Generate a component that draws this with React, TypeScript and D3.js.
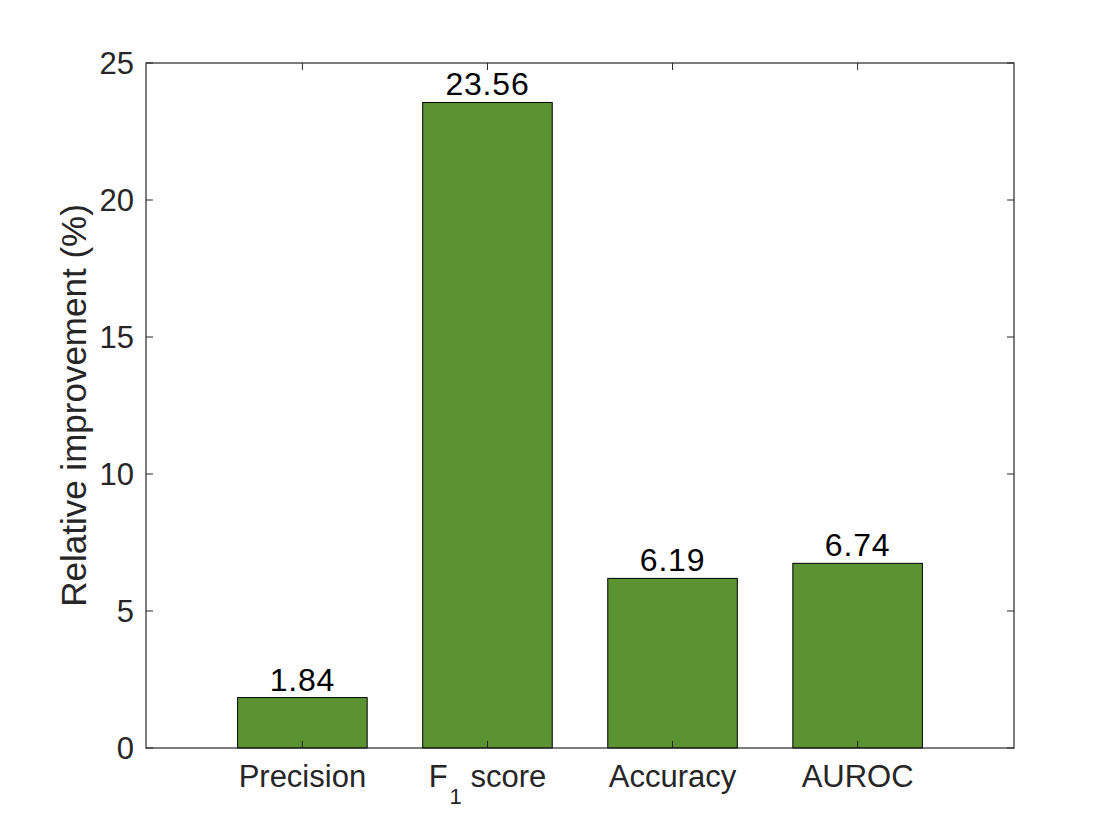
import React from "react"
import * as d3 from "d3"

const categories = ["Precision", "F1 score", "Accuracy", "AUROC"]
const improvements = [1.84, 23.56, 6.19, 6.74]
const yTicks = [0, 5, 10, 15, 20, 25]

const W = 1120
const H = 840
const FONT = "'Liberation Sans', Arial, Helvetica, sans-serif"

export default function App() {
  const left = 146
  const right = 1014
  const top = 63
  const bottom = 748

  const x = d3.scaleLinear().domain([0.155, 4.845]).range([left, right])
  const y = d3.scaleLinear().domain([0, 25]).range([bottom, top])
  const barW = x(0.7) - x(0)
  const tickLen = 7

  return (
    <svg
      width={W}
      height={H}
      style={{ position: "absolute", left: 0, top: 0, background: "white" }}
      fontFamily={FONT}
    >
      {/* bars */}
      {improvements.map((v, i) => (
        <g key={i}>
          <rect
            x={x(i + 1) - barW / 2}
            y={y(v)}
            width={barW}
            height={y(0) - y(v)}
            fill="#5b9332"
            stroke="#000"
            strokeWidth={1}
          />
          <text
            x={x(i + 1)}
            y={y(v) - 7}
            textAnchor="middle"
            fontSize={32}
            letterSpacing={0.8}
            fill="#000"
          >
            {v.toFixed(2)}
          </text>
        </g>
      ))}

      {/* axes box */}
      <rect
        x={left}
        y={top}
        width={right - left}
        height={bottom - top}
        fill="none"
        stroke="#262626"
        strokeWidth={1.2}
      />

      {/* y ticks */}
      {yTicks.map(t => (
        <g key={t}>
          <line x1={left} x2={left + tickLen} y1={y(t)} y2={y(t)} stroke="#262626" />
          <line x1={right} x2={right - tickLen} y1={y(t)} y2={y(t)} stroke="#262626" />
          <text
            x={left - 12}
            y={y(t)}
            dy="0.36em"
            textAnchor="end"
            fontSize={31}
            fill="#262626"
          >
            {t}
          </text>
        </g>
      ))}

      {/* x ticks */}
      {categories.map((c, i) => (
        <g key={c}>
          <line x1={x(i + 1)} x2={x(i + 1)} y1={bottom} y2={bottom - tickLen} stroke="#262626" />
          <line x1={x(i + 1)} x2={x(i + 1)} y1={top} y2={top + tickLen} stroke="#262626" />
          <text x={x(i + 1)} y={787} textAnchor="middle" fontSize={31} fill="#262626">
            {c === "F1 score" ? (
              <>
                F
                <tspan fontSize={22} dx={2} dy={17}>1</tspan>
                <tspan dy={-17}>{" score"}</tspan>
              </>
            ) : (
              c
            )}
          </text>
        </g>
      ))}

      {/* y label */}
      <text
        transform={`translate(86, ${(top + bottom) / 2}) rotate(-90)`}
        textAnchor="middle"
        fontSize={35}
        fill="#262626"
      >
        Relative improvement (%)
      </text>
    </svg>
  )
}
